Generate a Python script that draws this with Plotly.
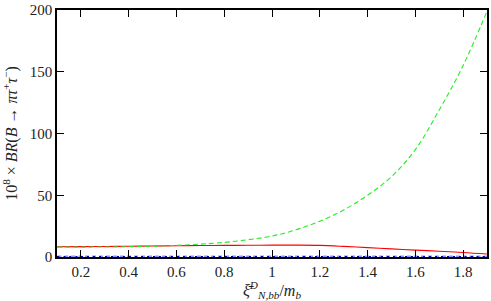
import plotly.graph_objects as go

x_vals = [0.1, 0.2, 0.3, 0.4, 0.5, 0.6, 0.7, 0.8, 0.9, 1.0,
          1.1, 1.2, 1.3, 1.4, 1.5, 1.6, 1.7, 1.8, 1.9]
green_br = [8.0, 8.0, 8.1, 8.3, 8.7, 9.4, 10.4, 11.8, 14.0, 17.0,
            22.0, 29.0, 38.0, 50.0, 65.0, 87.0, 119.0, 155.0, 199.0]
red_br = [8.3, 8.4, 8.5, 8.7, 8.9, 9.1, 9.3, 9.4, 9.5, 9.6,
          9.6, 9.4, 8.6, 7.6, 6.6, 5.6, 4.7, 3.7, 2.4]
blue_br = [0.4, 0.4, 0.4, 0.4, 0.4, 0.4, 0.4, 0.4, 0.4, 0.4,
           0.4, 0.4, 0.4, 0.4, 0.4, 0.4, 0.4, 0.4, 0.4]

x_ticks = [0.2, 0.4, 0.6, 0.8, 1.0, 1.2, 1.4, 1.6, 1.8]
x_tick_labels = ["0.2", "0.4", "0.6", "0.8", "1", "1.2", "1.4", "1.6", "1.8"]
y_ticks = [0, 50, 100, 150, 200]

font_family = "Liberation Serif"

fig = go.Figure()
fig.add_trace(go.Scatter(x=x_vals, y=blue_br, mode="lines", line_shape="spline",
                         line=dict(color="#8899ff", width=2, dash="4px,3px"),
                         showlegend=False))
fig.add_trace(go.Scatter(x=x_vals, y=blue_br, mode="lines", line_shape="spline",
                         line=dict(color="#0000aa", width=1.2, dash="2px,4px"),
                         showlegend=False))
fig.add_trace(go.Scatter(x=x_vals, y=red_br, mode="lines", line_shape="spline",
                         line=dict(color="#ff0000", width=1.1),
                         showlegend=False))
fig.add_trace(go.Scatter(x=x_vals, y=green_br, mode="lines", line_shape="spline",
                         line=dict(color="#22ee22", width=1.1, dash="5px,3px"),
                         showlegend=False))

axis_common = dict(
    showline=True, linecolor="black", linewidth=1.5, mirror="ticks",
    ticks="inside", ticklen=7, tickwidth=1.3, tickcolor="black",
    showgrid=False, zeroline=False,
    tickfont=dict(family=font_family, size=15, color="#222"),
)

fig.update_layout(
    width=491, height=301,
    margin=dict(l=57, r=2, t=8, b=44),
    paper_bgcolor="white", plot_bgcolor="white",
    font=dict(family=font_family, color="#222"),
    xaxis=dict(range=[0.1, 1.9], tickvals=x_ticks, ticktext=x_tick_labels,
               title=dict(text="<i>ξ̄</i><sup><i>D</i></sup><sub><i>N,bb</i></sub>/<i>m</i><sub><i>b</i></sub>",
                          font=dict(family=font_family, size=16, color="#222"),
                          standoff=2),
               **axis_common),
    yaxis=dict(range=[0, 200], tickvals=y_ticks,
               title=dict(text="10<sup>8</sup> × <i>BR</i>(<i>B</i> → <i>πτ</i><sup>+</sup><i>τ</i><sup>−</sup>)",
                          font=dict(family=font_family, size=16, color="#222"),
                          standoff=8),
               **axis_common),
)

fig.write_html("out.html", config={"displayModeBar": False},
               post_script="document.body.style.margin='0';document.body.style.overflow='hidden';")
